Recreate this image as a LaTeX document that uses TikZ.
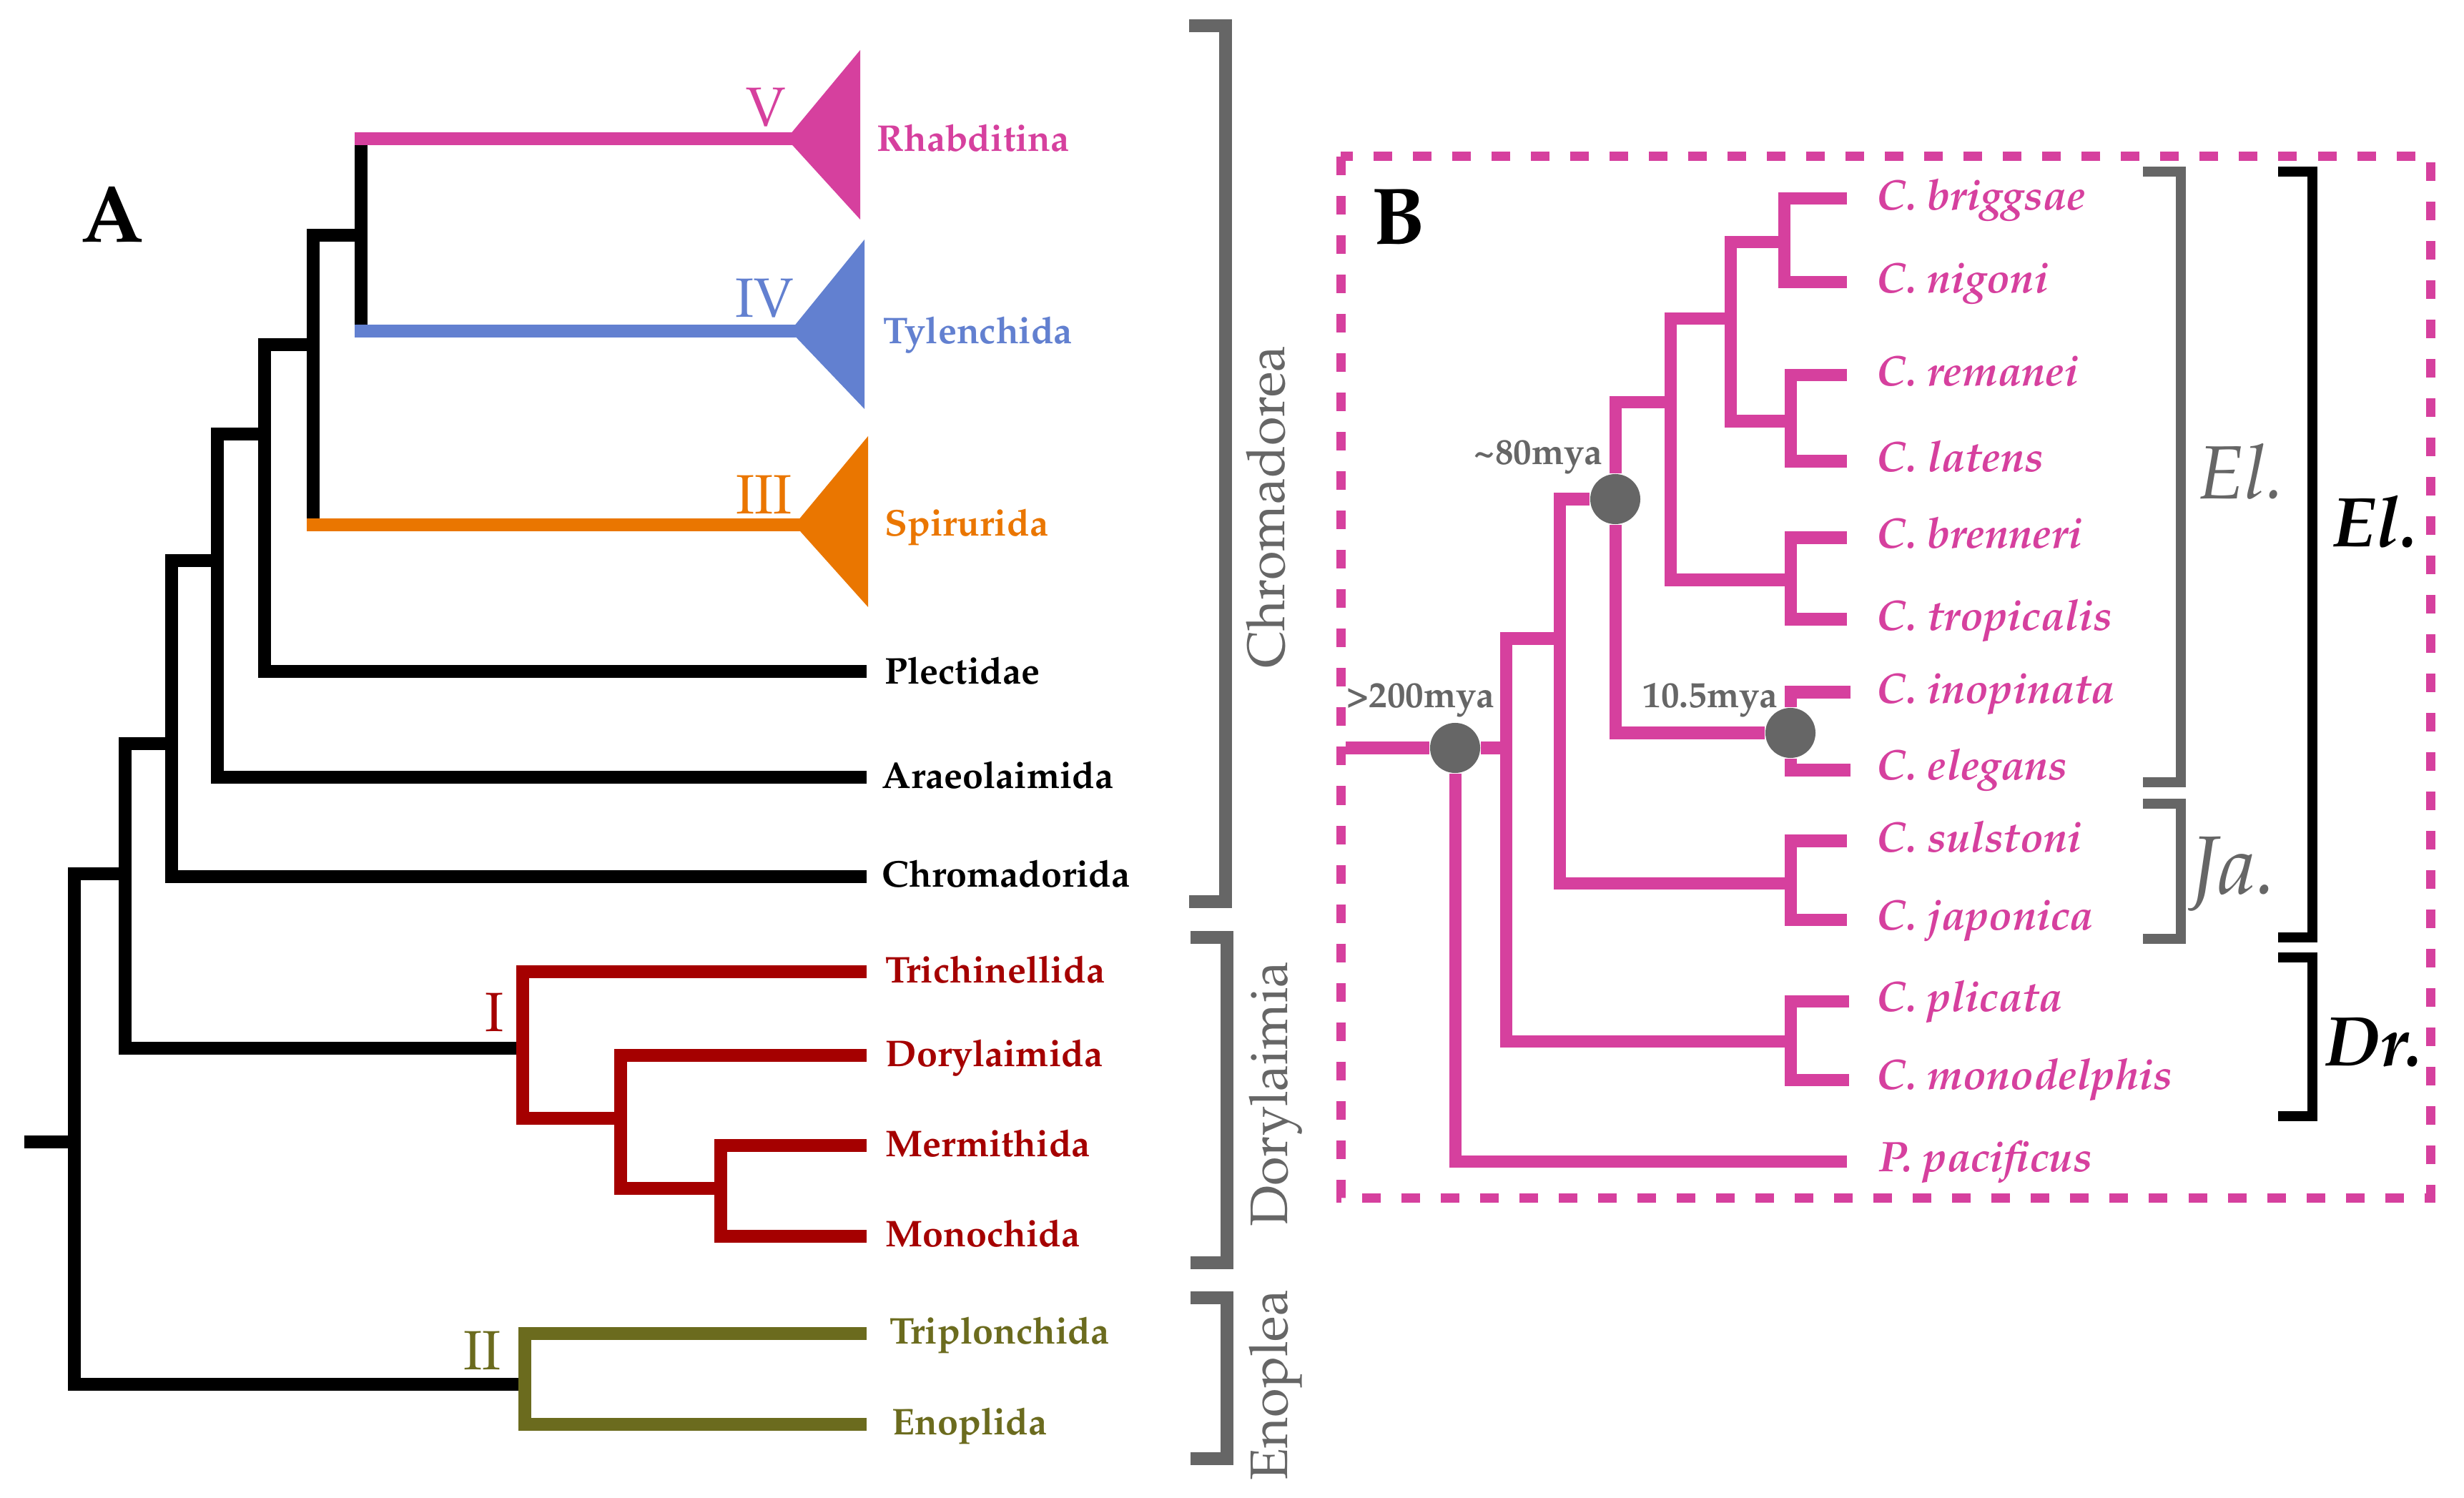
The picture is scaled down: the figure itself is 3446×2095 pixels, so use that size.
\documentclass[tikz,border=0pt]{standalone}
\usepackage[T1]{fontenc}
\usepackage{mathpazo}
\definecolor{rhab}{RGB}{214,64,158}
\definecolor{tyle}{RGB}{98,128,208}
\definecolor{spir}{RGB}{234,118,0}
\definecolor{dory}{RGB}{165,0,0}
\definecolor{enop}{RGB}{107,107,30}
\definecolor{grp}{RGB}{102,102,102}
\tikzstyle{branch} = [line width=0.18cm, line join=miter]
\tikzstyle{bbranch} = [line width=0.17cm, rhab, line join=miter]
\tikzstyle{leafA} = [anchor=base west, inner sep=0pt, font=\fontsize{14.8}{18}\selectfont\bfseries]
\tikzstyle{leafB} = [anchor=base west, inner sep=0pt, text=rhab, font=\fontsize{17}{20}\selectfont\bfseries\itshape]
\tikzstyle{clade} = [anchor=base east, inner sep=0pt, font=\fontsize{22}{26}\selectfont]
\tikzstyle{panel} = [anchor=base, inner sep=0pt, font=\fontsize{32}{36}\selectfont\bfseries]
\tikzstyle{groupA} = [line width=0.18cm, grp, line join=miter]
\tikzstyle{grouplabel} = [rotate=90, anchor=base, inner sep=0pt, text=grp, font=\fontsize{21}{25}\selectfont]
\tikzstyle{groupB} = [line width=0.14cm, line join=miter]
\tikzstyle{groupBlabel} = [anchor=base west, inner sep=0pt, font=\fontsize{30}{34}\selectfont\itshape]
\tikzstyle{agedot} = [circle, fill=grp, minimum size=0.7cm, inner sep=0pt]
\tikzstyle{age} = [anchor=base east, inner sep=0pt, text=grp, font=\fontsize{14.5}{17}\selectfont\bfseries]
\tikzstyle{boxB} = [rhab, line width=0.13cm, dash pattern=on 0.26cm off 0.29cm]

\begin{document}
\begin{tikzpicture}[x=0.01cm, y=-0.01cm]
    \useasboundingbox (0,0) rectangle (3446,2095);

    % ---------- panel A ----------
    \node [panel] (labA) at (157,339) {A};

    \coordinate (root) at (34,1597);
    \coordinate (nR) at (104,1597);
    \coordinate (nB) at (175,1222);
    \coordinate (nC) at (240,1040);
    \coordinate (nD) at (304,784);
    \coordinate (nE) at (370,607);
    \coordinate (nF) at (438,482);
    \coordinate (nG) at (505,329);
    \coordinate (nI) at (731,1466);
    \coordinate (nDM) at (868,1564);
    \coordinate (nMM) at (1008,1662);
    \coordinate (nII) at (734,1936);

    \coordinate (tV) at (1108,194);
    \coordinate (tIV) at (1113,463);
    \coordinate (tIII) at (1119,734);
    \coordinate (tPlect) at (1212,939);
    \coordinate (tArae) at (1212,1087);
    \coordinate (tChro) at (1212,1226);
    \coordinate (tTric) at (1212,1359);
    \coordinate (tDory) at (1212,1476);
    \coordinate (tMerm) at (1212,1602);
    \coordinate (tMono) at (1212,1729);
    \coordinate (tTrip) at (1212,1865);
    \coordinate (tEnop) at (1212,1992);

    \draw [branch] (root) -- (nR);
    \draw [branch] (nR) |- (nB);
    \draw [branch] (nR) |- (nII);
    \draw [branch] (nB) |- (nC);
    \draw [branch] (nB) |- (nI);
    \draw [branch] (nC) |- (nD);
    \draw [branch] (nC) |- (tChro);
    \draw [branch] (nD) |- (nE);
    \draw [branch] (nD) |- (tArae);
    \draw [branch] (nE) |- (nF);
    \draw [branch] (nE) |- (tPlect);
    \draw [branch] (nF) |- (nG);
    \draw [branch] (nF) -- (nF |- tIII);
    \draw [branch] (nG |- tV) -- (nG |- tIV);

    % collapsed clades
    \draw [branch, rhab, shorten <=-0.09cm] (nG |- tV) -- (tV);
    \draw [branch, tyle, shorten <=-0.09cm] (nG |- tIV) -- (tIV);
    \draw [branch, spir, shorten <=-0.09cm] (nF |- tIII) -- (tIII);
    \fill [rhab] (1100,194) -- (1203,70) -- (1203,307) -- cycle;
    \fill [tyle] (1105,463) -- (1209,335) -- (1209,572) -- cycle;
    \fill [spir] (1111,734) -- (1214,610) -- (1214,849) -- cycle;

    \draw [branch, dory] (nI) |- (tTric);
    \draw [branch, dory] (nI) |- (nDM);
    \draw [branch, dory] (nDM) |- (tDory);
    \draw [branch, dory] (nDM) |- (nMM);
    \draw [branch, dory] (nMM) |- (tMerm);
    \draw [branch, dory] (nMM) |- (tMono);
    \draw [branch, enop] (nII) |- (tTrip);
    \draw [branch, enop] (nII) |- (tEnop);

    \node [clade, rhab] (cV) at (1100,177) {V};
    \node [clade, tyle] (cIV) at (1111,444) {IV};
    \node [clade, spir] (cIII) at (1108,719) {III};
    \node [clade, dory] (cI) at (705,1442) {I};
    \node [clade, enop] (cII) at (701,1915) {II};

    \node [leafA, rhab] (lRhab) at (1226,212) {Rhabditina};
    \node [leafA, tyle] (lTyle) at (1235,481) {Tylenchida};
    \node [leafA, spir] (lSpir) at (1237,750) {Spirurida};
    \node [leafA] (lPlect) at (1237,956) {Plectidae};
    \node [leafA] (lArae) at (1233,1102) {Araeolaimida};
    \node [leafA] (lChro) at (1233,1240) {Chromadorida};
    \node [leafA, dory] (lTric) at (1238,1374) {Trichinellida};
    \node [leafA, dory] (lDory) at (1238,1491) {Dorylaimida};
    \node [leafA, dory] (lMerm) at (1238,1617) {Mermithida};
    \node [leafA, dory] (lMono) at (1238,1743) {Monochida};
    \node [leafA, enop] (lTrip) at (1244,1879) {Triplonchida};
    \node [leafA, enop] (lEnop) at (1247,2006) {Enoplida};

    \draw [groupA] (1663,36) -- (1714,36) -- (1714,1261) -- (1663,1261);
    \draw [groupA] (1665,1311) -- (1716,1311) -- (1716,1766) -- (1665,1766);
    \draw [groupA] (1665,1815) -- (1716,1815) -- (1716,2040) -- (1665,2040);
    \node [grouplabel] (gChro) at (1796,709) {Chromadorea};
    \node [grouplabel] (gDory) at (1800,1530) {Dorylaimia};
    \node [grouplabel] (gEnop) at (1800,1937) {Enoplea};

    % ---------- panel B ----------
    \draw [boxB] (1875,219) rectangle (3399,1675);
    \node [panel] (labB) at (1956,342) {B};

    \node [agedot] (d200) at (2035,1046) {};
    \node [agedot] (d80) at (2259,698) {};
    \node [agedot] (d10) at (2504,1025) {};
    \coordinate (bR0) at (1882,1046);
    \coordinate (bN1) at (2106,1046);
    \coordinate (bN2) at (2181,893);
    \coordinate (bN3) at (2336,563);
    \coordinate (bN4) at (2420,446);
    \coordinate (bBN) at (2495,339);
    \coordinate (bRL) at (2504,589);
    \coordinate (bBT) at (2504,811);
    \coordinate (bJa) at (2504,1235);
    \coordinate (bDr) at (2504,1456);

    \coordinate (tBrig) at (2583,278);
    \coordinate (tNigo) at (2583,395);
    \coordinate (tRema) at (2583,525);
    \coordinate (tLate) at (2583,645);
    \coordinate (tBren) at (2583,752);
    \coordinate (tTrop) at (2583,866);
    \coordinate (tInop) at (2588,968);
    \coordinate (tEleg) at (2588,1077);
    \coordinate (tSuls) at (2583,1176);
    \coordinate (tJapo) at (2583,1286);
    \coordinate (tPlic) at (2586,1400);
    \coordinate (tMonod) at (2586,1510);
    \coordinate (tPaci) at (2583,1624);

    \draw [bbranch] (bR0) -- (d200);
    \draw [bbranch] (d200) -- (bN1);
    \draw [bbranch] (d200) |- (tPaci);
    \draw [bbranch] (bN1) |- (bN2);
    \draw [bbranch] (bN1) |- (bDr);
    \draw [bbranch] (bN2) |- (d80);
    \draw [bbranch] (bN2) |- (bJa);
    \draw [bbranch] (d80) |- (bN3);
    \draw [bbranch] (d80) |- (d10);
    \draw [bbranch] (bN3) |- (bN4);
    \draw [bbranch] (bN3) |- (bBT);
    \draw [bbranch] (bN4) |- (bBN);
    \draw [bbranch] (bN4) |- (bRL);
    \draw [bbranch] (bBN) |- (tBrig);
    \draw [bbranch] (bBN) |- (tNigo);
    \draw [bbranch] (bRL) |- (tRema);
    \draw [bbranch] (bRL) |- (tLate);
    \draw [bbranch] (bBT) |- (tBren);
    \draw [bbranch] (bBT) |- (tTrop);
    \draw [bbranch] (d10) |- (tInop);
    \draw [bbranch] (d10) |- (tEleg);
    \draw [bbranch] (bJa) |- (tSuls);
    \draw [bbranch] (bJa) |- (tJapo);
    \draw [bbranch] (bDr) |- (tPlic);
    \draw [bbranch] (bDr) |- (tMonod);

    \node [age] (a200) at (2091,989) {>200mya};
    \node [age] (a80) at (2242,650) {\textasciitilde80mya};
    \node [age] (a10) at (2487,989) {10.5mya};

    \node [leafB] (lBrig) at (2624,294) {C. briggsae};
    \node [leafB] (lNigo) at (2624,410) {C. nigoni};
    \node [leafB] (lRema) at (2624,540) {C. remanei};
    \node [leafB] (lLate) at (2624,660) {C. latens};
    \node [leafB] (lBren) at (2624,767) {C. brenneri};
    \node [leafB] (lTrop) at (2624,881) {C. tropicalis};
    \node [leafB] (lInop) at (2624,983) {C. inopinata};
    \node [leafB] (lEleg) at (2624,1090) {C. elegans};
    \node [leafB] (lSuls) at (2624,1191) {C. sulstoni};
    \node [leafB] (lJapo) at (2624,1300) {C. japonica};
    \node [leafB] (lPlic) at (2624,1414) {C. plicata};
    \node [leafB] (lMonod) at (2624,1523) {C. monodelphis};
    \node [leafB] (lPaci) at (2627,1638) {P. pacificus};

    \draw [groupB, grp] (2997,240) -- (3050,240) -- (3050,1094) -- (2997,1094);
    \draw [groupB, grp] (2997,1124) -- (3050,1124) -- (3050,1313) -- (2997,1313);
    \draw [groupB] (3186,240) -- (3234,240) -- (3234,1311) -- (3186,1311);
    \draw [groupB] (3186,1339) -- (3234,1339) -- (3234,1561) -- (3186,1561);
    \node [groupBlabel, grp] (gEl) at (3074,698) {El.};
    \node [groupBlabel, grp, font=\fontsize{33}{37}\selectfont\itshape] (gJa) at (3064,1250) {Ja.};
    \node [groupBlabel, font=\fontsize{28}{32}\selectfont\bfseries\itshape] (gEl2) at (3262,765) {El.};
    \node [groupBlabel, font=\fontsize{28}{32}\selectfont\bfseries\itshape] (gDr) at (3252,1490) {Dr.};
\end{tikzpicture}
\end{document}
